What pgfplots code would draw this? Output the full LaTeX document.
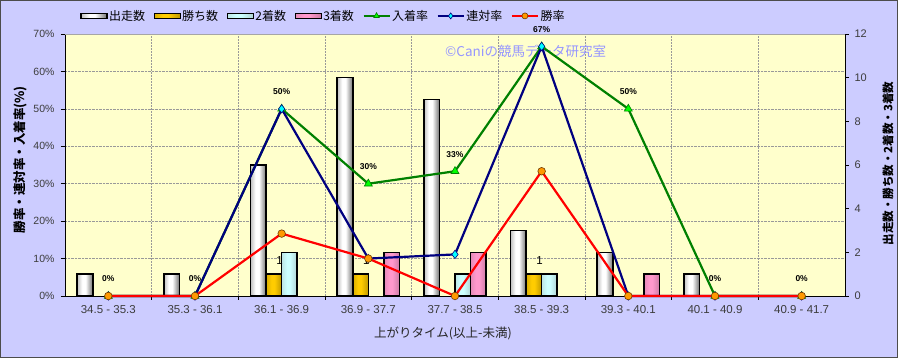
\documentclass[border=0pt]{standalone}
\usepackage{pgfplots}
\pgfplotsset{compat=1.18}
\usepackage{fontspec}
\setmainfont{Noto Sans CJK JP}
\newfontfamily\lat{Liberation Sans}
\definecolor{chartbg}{RGB}{204,204,255}
\definecolor{plotbg}{RGB}{255,255,204}
\definecolor{gold}{RGB}{255,204,0}
\definecolor{ltcyan}{RGB}{204,255,255}
\definecolor{pinkb}{RGB}{255,153,204}
\definecolor{dgreen}{RGB}{0,128,0}
\definecolor{limeg}{RGB}{0,255,0}
\definecolor{navyb}{RGB}{0,0,128}
\definecolor{cyanm}{RGB}{0,255,255}
\definecolor{orangem}{RGB}{255,153,0}
\definecolor{brownm}{RGB}{110,55,0}
\definecolor{wm}{RGB}{150,150,255}
\definecolor{tickc}{RGB}{60,60,60}
\pgfdeclarehorizontalshading{runshade}{100bp}{color(0bp)=(black!25); color(25bp)=(black!25); color(41bp)=(white); color(52bp)=(white); color(75bp)=(black!55); color(100bp)=(black!55)}
\pgfdeclarehorizontalshading{winshade}{100bp}{color(0bp)=(gold!85!black); color(25bp)=(gold!85!black); color(42bp)=(gold); color(52bp)=(gold); color(75bp)=(gold!75!black); color(100bp)=(gold!75!black)}
\pgfdeclarehorizontalshading{secshade}{100bp}{color(0bp)=(ltcyan!80!gray); color(25bp)=(ltcyan!80!gray); color(42bp)=(ltcyan); color(52bp)=(ltcyan); color(75bp)=(ltcyan!65!gray); color(100bp)=(ltcyan!65!gray)}
\pgfdeclarehorizontalshading{thirdshade}{100bp}{color(0bp)=(pinkb!90!black); color(25bp)=(pinkb!90!black); color(42bp)=(pinkb); color(52bp)=(pinkb); color(75bp)=(pinkb!80!black); color(100bp)=(pinkb!80!black)}
\pgfplotsset{
  /pgf/number format/assume math mode=true,
  common/.style={
    at={(65pt,62pt)}, anchor=south west, scale only axis,
    width=780pt, height=262pt,
    xmin=-0.5, xmax=8.5,
  },
  barleg/.style={legend image code/.code={\path[##1, draw=black, line width=1.2pt] (0pt,-2.8pt) rectangle (26pt,2.8pt);}},
  lineleg/.style={legend image code/.code={\draw[mark repeat=2,mark phase=2,##1] plot coordinates {(0pt,0pt) (13pt,0pt) (26pt,0pt)};}},
  runstyle/.style={shade, shading=runshade},
  winstyle/.style={shade, shading=winshade},
  secstyle/.style={shade, shading=secshade},
  thirdstyle/.style={shade, shading=thirdshade},
  placestyle/.style={dgreen, line width=2.2pt, mark=triangle*, mark size=4.6pt, mark options={fill=limeg, draw=dgreen, line width=0.6pt}},
  rentaistyle/.style={navyb, line width=2.2pt, mark=diamond*, mark size=4.2pt, mark options={fill=cyanm, draw=navyb, line width=0.6pt}},
  winratestyle/.style={red, line width=2.2pt, mark=*, mark size=3.8pt, mark options={fill=orangem, draw=brownm, line width=0.6pt}},
}
% one bar per \addplot so that each bar gets its own shading
\newcommand{\runbar}[2]{\addplot[ybar, bar shift=-23.4pt, runstyle, draw=black, line width=1.6pt] coordinates {(#1,#2)};}
\newcommand{\winbar}[2]{\addplot[ybar, bar shift=-7.8pt, winstyle, draw=black, line width=1.6pt,
  nodes near coords,
  every node near coord/.append style={font=\lat\fontsize{11.5}{13}\selectfont, text=black, anchor=center, yshift=14pt, xshift=-2pt, shade=false, fill=none, draw=none, line width=0pt}]
  coordinates {(#1,#2)};}
\newcommand{\secbar}[2]{\addplot[ybar, bar shift=7.8pt, secstyle, draw=black, line width=1.6pt] coordinates {(#1,#2)};}
\newcommand{\thirdbar}[2]{\addplot[ybar, bar shift=23.4pt, thirdstyle, draw=black, line width=1.6pt] coordinates {(#1,#2)};}
\begin{document}
\begin{tikzpicture}
\useasboundingbox (0,0) rectangle (898pt,358pt);
\draw[black!70, line width=1pt, fill=chartbg] (0.5pt,0.5pt) rectangle (897.5pt,357.5pt);

% Axis A: background, grid, left axis, x axis
\begin{axis}[common,
  ymin=0, ymax=70,
  axis background/.style={fill=plotbg},
  axis x line*=bottom, axis y line*=left,
  axis line style={black, line width=0.8pt},
  ytick={0,10,...,70},
  yticklabel={\pgfmathprintnumber{\tick}\%},
  yticklabel style={font=\lat\fontsize{10.5}{12}\selectfont, text=tickc, xshift=-3pt},
  xtick={0,...,8},
  xticklabels={34.5 - 35.3, 35.3 - 36.1, 36.1 - 36.9, 36.9 - 37.7, 37.7 - 38.5, 38.5 - 39.3, 39.3 - 40.1, 40.1 - 40.9, 40.9 - 41.7},
  xticklabel style={font=\lat\fontsize{11.5}{13}\selectfont, text=tickc, yshift=-2pt},
  minor xtick={0.5,1.5,...,7.5},
  ymajorgrids, xminorgrids,
  grid style={densely dotted, gray!80, line width=0.5pt},
  minor grid style={densely dotted, gray!80, line width=0.5pt},
  tick align=outside, major tick length=4pt, minor tick length=4pt,
  major x tick style={draw=none},
  tick style={black, line width=0.6pt},
  xlabel={上がりタイム(以上-未満)},
  every axis x label/.style={at={(axis description cs:0.5,0)}, anchor=center, yshift=-37pt, xshift=-12pt, font=\fontsize{12.5}{14}\selectfont, text=black!85},
  ylabel={勝率・連対率・入着率(\%)},
  every axis y label/.style={at={(axis description cs:0,0.52)}, xshift=-45pt, rotate=90, anchor=center, font=\bfseries\fontsize{12.5}{14}\selectfont},
]
\draw[gray!70, line width=0.6pt] (rel axis cs:0,1) -- (rel axis cs:1,1);
\node[anchor=west, text=wm, font=\fontsize{13.5}{15}\selectfont, inner sep=0pt] at (axis cs:3.885,65.3) {©Caniの競馬データ研究室};
\end{axis}

% Axis B: counts (bars), right axis
\begin{axis}[common,
  ymin=0, ymax=12,
  axis x line=none, axis y line*=right,
  axis line style={black, line width=0.8pt},
  ytick={0,2,...,12},
  yticklabel style={font=\lat\fontsize{11}{13}\selectfont, text=tickc, xshift=2pt},
  tick align=outside, major tick length=4pt, tick style={black, line width=0.6pt},
  ylabel={出走数・勝ち数・2着数・3着数},
  every axis y label/.style={at={(axis description cs:1,0.505)}, xshift=43pt, rotate=90, anchor=center, font=\bfseries\fontsize{11.5}{13}\selectfont},
  bar width=15.6pt,
]
% 出走数
\runbar{0}{1}\runbar{1}{1}\runbar{2}{6}\runbar{3}{10}\runbar{4}{9}\runbar{5}{3}\runbar{6}{2}\runbar{7}{1}
% 勝ち数
\winbar{2}{1}\winbar{3}{1}\winbar{5}{1}
% 2着数
\secbar{2}{2}\secbar{4}{1}\secbar{5}{1}
% 3着数
\thirdbar{3}{2}\thirdbar{4}{2}\thirdbar{6}{1}
\end{axis}

% Axis C: rate lines and legend
\begin{axis}[common,
  ymin=0, ymax=70,
  hide axis, clip=false,
  legend columns=-1,
  legend style={at={(rel axis cs:0.331,1.069)}, anchor=center, draw=none, fill=none,
    font=\fontsize{12}{14}\selectfont, nodes={inner sep=1.5pt},
    /tikz/every even column/.append style={column sep=7pt}},
]
\addlegendimage{barleg, runstyle}\addlegendentry{出走数}
\addlegendimage{barleg, winstyle}\addlegendentry{勝ち数}
\addlegendimage{barleg, secstyle}\addlegendentry{2着数}
\addlegendimage{barleg, thirdstyle}\addlegendentry{3着数}
\addlegendimage{lineleg, placestyle, mark size=3.2pt}\addlegendentry{入着率}
\addlegendimage{lineleg, rentaistyle, mark size=3pt}\addlegendentry{連対率}
\addlegendimage{lineleg, winratestyle, mark size=3pt}\addlegendentry{勝率}

\addplot[forget plot, placestyle,
  nodes near coords={\pgfmathprintnumber[fixed,precision=0]{\pgfplotspointmeta}\%},
  every node near coord/.append style={font=\lat\bfseries\fontsize{8.5}{10}\selectfont, text=black, anchor=center, yshift=17pt}]
  coordinates {(0,0) (1,0) (2,50) (3,30) (4,33.33) (5,66.67) (6,50) (7,0) (8,0)};
\addplot[forget plot, rentaistyle]
  coordinates {(0,0) (1,0) (2,50) (3,10) (4,11.11) (5,66.67) (6,0) (7,0) (8,0)};
\addplot[forget plot, winratestyle]
  coordinates {(0,0) (1,0) (2,16.67) (3,10) (4,0) (5,33.33) (6,0) (7,0) (8,0)};
\end{axis}
\end{tikzpicture}
\end{document}
